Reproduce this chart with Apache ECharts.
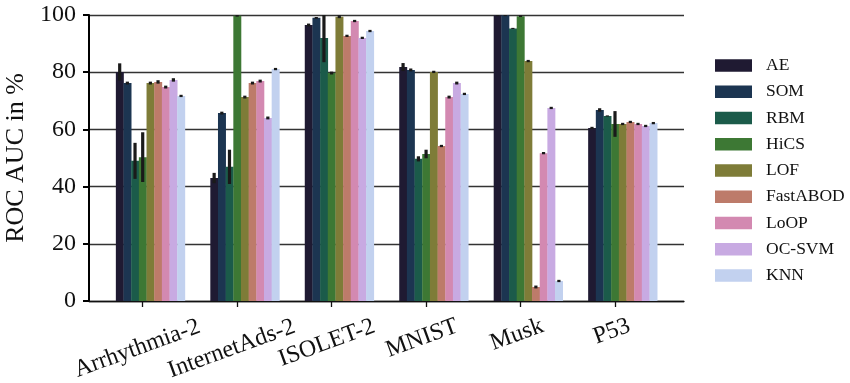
<!DOCTYPE html>
<html>
<head>
<meta charset="utf-8">
<script src="https://cdn.jsdelivr.net/npm/echarts@6/dist/echarts.min.js"></script>
<style>
  html, body { margin: 0; padding: 0; background: #fff; }
  #chart { width: 850px; height: 383px; }
</style>
</head>
<body>
<div id="chart"></div>
<script>
const categories = ['Arrhythmia-2', 'InternetAds-2', 'ISOLET-2', 'MNIST', 'Musk', 'P53'];
const methods = ['AE', 'SOM', 'RBM', 'HiCS', 'LOF', 'FastABOD', 'LoOP', 'OC-SVM', 'KNN'];
const colors = ['#1f1a32', '#1c3551', '#1b5b4a', '#3d7834', '#7e7c38', '#bd7b6a', '#d389b1', '#c8aae2', '#c2d1ef'];

// mean ROC AUC (%) per method, one value per dataset
const aeVals = [80.1, 43.0, 96.5, 81.8, 99.9, 60.5];
const somVals = [76.2, 65.7, 99.0, 80.8, 99.9, 66.8];
const rbmVals = [49.0, 46.9, 92.0, 49.7, 95.3, 64.7];
const hicsVals = [50.3, 99.7, 79.7, 51.4, 99.6, 61.9];
const lofVals = [76.2, 71.3, 99.4, 80.1, 83.9, 61.9];
const fastabodVals = [76.6, 76.2, 92.7, 54.2, 4.9, 62.6];
const loopVals = [74.8, 76.9, 97.9, 71.3, 51.7, 61.9];
const ocsvmVals = [77.3, 64.0, 92.0, 76.2, 67.5, 61.2];
const knnVals = [71.7, 81.1, 94.4, 72.4, 7.0, 62.2];

// half length of the error bars
const aeErr = [3.0, 1.8, 0.5, 1.4, 0.3, 0.4];
const somErr = [0.5, 0.5, 0.3, 0.5, 0.3, 0.6];
const rbmErr = [6.3, 6.0, 8.5, 0.9, 0.2, 0.2];
const hicsErr = [8.7, 0.3, 0.5, 1.5, 0.3, 4.5];
const lofErr = [0.5, 0.5, 0.5, 0.4, 0.4, 0.4];
const fastabodErr = [0.6, 0.5, 0.4, 0.4, 0.5, 0.4];
const loopErr = [0.5, 0.5, 0.4, 0.5, 0.4, 0.4];
const ocsvmErr = [0.6, 0.5, 0.4, 0.5, 0.4, 0.4];
const knnErr = [0.4, 0.4, 0.4, 0.4, 0.4, 0.4];

const allVals = [aeVals, somVals, rbmVals, hicsVals, lofVals, fastabodVals, loopVals, ocsvmVals, knnVals];
const allErr = [aeErr, somErr, rbmErr, hicsErr, lofErr, fastabodErr, loopErr, ocsvmErr, knnErr];

const FONT = '"Liberation Serif", "DejaVu Serif", serif';
const BAR_FRAC = 0.0812;

// rotated tick labels: push each label down by its own width so the tops line up
const measure = document.createElement('canvas').getContext('2d');
measure.font = '24px "Liberation Serif"';
const rich = {};
categories.forEach((c, i) => {
  const w = measure.measureText(c).width;
  const d = 0.171 * w;
  rich['c' + i] = {
    fontSize: 24,
    fontFamily: FONT,
    color: '#111',
    padding: [1.879 * d, 0.684 * d + 5 + 0.05 * w, 0, 0],
  };
});

function renderBar(params, api) {
  const j = params.seriesIndex;
  const cat = api.value(0);
  const val = api.value(1);
  const err = api.value(2);
  const bw = api.size([1, 0])[0] * BAR_FRAC;
  const base = api.coord([cat, 0]);
  const top = api.coord([cat, val]);
  const x0 = base[0] + (j - 3.5) * bw;
  const xc = x0 + bw / 2;
  const hi = api.coord([cat, Math.min(val + err, 100)]);
  const lo = api.coord([cat, val - err]);
  return {
    type: 'group',
    children: [
      {
        type: 'rect',
        shape: { x: x0, y: top[1], width: bw + 0.3, height: base[1] - top[1] },
        style: { fill: api.visual('color') },
      },
      {
        type: 'line',
        z2: 5,
        shape: { x1: xc, y1: hi[1], x2: xc, y2: lo[1] },
        style: { stroke: '#1a1a1a', lineWidth: 3.2 },
      },
    ],
  };
}

const chart = echarts.init(document.getElementById('chart'));
chart.setOption({
  animation: false,
  textStyle: { fontFamily: FONT },
  grid: { left: 89, right: 166, top: 15, bottom: 82, outerBoundsMode: 'none' },
  legend: {
    orient: 'vertical',
    left: 710,
    top: 51.5,
    icon: 'rect',
    itemWidth: 37,
    itemHeight: 12.5,
    itemGap: 8.25,
    data: methods,
    textStyle: { fontSize: 17.5, fontFamily: FONT, color: '#111', padding: [0, 0, 0, 9] },
  },
  xAxis: {
    type: 'value',
    min: -0.5685,
    max: 5.7305,
    splitLine: { show: false },
    axisLine: { show: true, onZero: false, lineStyle: { color: '#111', width: 1.3 } },
    axisTick: { show: true, length: 6, customValues: [0, 1, 2, 3, 4, 5], lineStyle: { color: '#111', width: 1.3 } },
    axisLabel: {
      customValues: [0, 1, 2, 3, 4, 5],
      rotate: 20,
      align: 'center',
      verticalAlign: 'middle',
      margin: 23,
      formatter: (v) => '{c' + v + '|' + categories[v] + '}',
      rich: rich,
    },
  },
  yAxis: {
    type: 'value',
    min: 0,
    max: 100,
    interval: 20,
    name: 'ROC AUC in %',
    nameLocation: 'middle',
    nameRotate: 90,
    nameGap: 58,
    nameTextStyle: { fontSize: 26, fontFamily: FONT, color: '#111' },
    axisLine: { show: true, onZero: false, lineStyle: { color: '#000', width: 2 } },
    axisTick: { show: true, length: 6, lineStyle: { color: '#000', width: 2 } },
    axisLabel: { fontSize: 24, fontFamily: FONT, color: '#111', margin: 13 },
    splitLine: { show: true, lineStyle: { color: '#333', width: 1.3 } },
  },
  series: methods.map((m, j) => ({
    name: m,
    type: 'custom',
    clip: true,
    itemStyle: { color: colors[j] },
    encode: { x: 0, y: 1 },
    renderItem: renderBar,
    data: allVals[j].map((v, i) => [i, v, allErr[j][i]]),
  })),
});
</script>
</body>
</html>
